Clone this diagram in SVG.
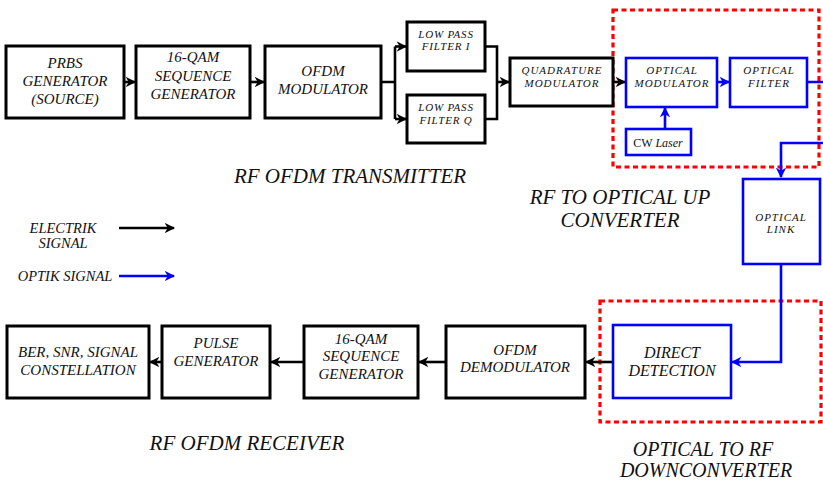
<svg xmlns="http://www.w3.org/2000/svg" width="823" height="482" viewBox="0 0 823 482">
  <defs>
    <marker id="ah-black" viewBox="0 0 10 10" refX="9" refY="5" markerWidth="4" markerHeight="4" orient="auto" markerUnits="strokeWidth">
      <path d="M0,0 L10,5 L0,10 L3,5 z" fill="#000"/>
    </marker>
    <marker id="ah-blue" viewBox="0 0 10 10" refX="9" refY="5" markerWidth="4" markerHeight="4" orient="auto" markerUnits="strokeWidth">
      <path d="M0,0 L10,5 L0,10 L3,5 z" fill="#0000ff"/>
    </marker>
    <style>
      .box { fill: #fff; stroke: #000; stroke-width: 3; }
      .obox { fill: #fff; stroke: #0000ff; stroke-width: 2.6; }
      .zone { fill: none; stroke: #ff0000; stroke-width: 3.2; stroke-dasharray: 5 3.5; }
      .wire { fill: none; stroke: #000; stroke-width: 2.6; }
      .owire { fill: none; stroke: #0000ff; stroke-width: 2.6; }
      .arr { marker-end: url(#ah-black); }
      .oarr { marker-end: url(#ah-blue); }
      text { font-family: "Liberation Serif", "Times New Roman", serif; font-style: italic; fill: #111; text-anchor: middle; }
      .t15 { font-size: 15px; }
      .t16 { font-size: 16px; }
      .t11 { font-size: 11px; letter-spacing: 1px; }
      .t11n { font-size: 11px; letter-spacing: 0.8px; }
      .t12 { font-size: 12px; font-style: normal; }
      .cap { font-size: 21px; }
      .cap20 { font-size: 20px; }
      .leg { font-size: 14.5px; }
    </style>
  </defs>

  <!-- dashed converter zones -->
  <rect class="zone" x="613" y="10" width="206" height="157"/>
  <rect class="zone" x="600" y="301" width="221" height="121"/>

  <!-- connectors -->
  <g id="connectors">
    <!-- transmitter chain -->
    <line class="wire arr" x1="124" y1="82" x2="135" y2="82"/>
    <line class="wire arr" x1="250" y1="82" x2="264" y2="82"/>
    <path class="wire" d="M381,82 H395 M395,46.5 V119"/>
    <line class="wire arr" x1="395" y1="46.5" x2="406" y2="46.5"/>
    <line class="wire arr" x1="395" y1="119" x2="406" y2="119"/>
    <path class="wire" d="M485,46.5 H497 V119 H485"/>
    <line class="wire arr" x1="497" y1="82" x2="509" y2="82"/>
    <line class="wire arr" x1="613" y1="82" x2="625" y2="82"/>
    <!-- optical up-conversion -->
    <line class="owire oarr" x1="717" y1="82" x2="729" y2="82"/>
    <line class="owire oarr" x1="665" y1="129" x2="665" y2="108"/>
    <path class="owire" d="M807,82 H826 V143"/>
    <path class="owire oarr" d="M826,143 H781 V177"/>
    <!-- optical link to detection -->
    <path class="owire oarr" d="M781,264 V362 H732"/>
    <!-- receiver chain -->
    <line class="wire arr" x1="613" y1="362" x2="586" y2="362"/>
    <line class="wire arr" x1="446" y1="362" x2="419" y2="362"/>
    <line class="wire arr" x1="304" y1="362" x2="271" y2="362"/>
    <line class="wire arr" x1="162" y1="362" x2="150" y2="362"/>
    <!-- legend arrows -->
    <line class="wire arr" x1="119" y1="228" x2="174" y2="228"/>
    <line class="owire oarr" x1="119" y1="276" x2="174" y2="276"/>
  </g>

  <!-- transmitter -->
  <g id="prbs">
    <rect class="box" x="6" y="46" width="118" height="72"/>
    <text class="t15" x="65" y="68">PRBS</text>
    <text class="t15" x="65" y="86">GENERATOR</text>
    <text class="t15" x="65" y="104">(SOURCE)</text>
  </g>
  <g id="qam-tx">
    <rect class="box" x="136" y="46" width="114" height="72"/>
    <text class="t15" x="193" y="62">16-QAM</text>
    <text class="t15" x="193" y="81">SEQUENCE</text>
    <text class="t15" x="193" y="99">GENERATOR</text>
  </g>
  <g id="ofdm-mod">
    <rect class="box" x="265" y="46" width="116" height="72"/>
    <text class="t15" x="323" y="76">OFDM</text>
    <text class="t15" x="323" y="94">MODULATOR</text>
  </g>
  <g id="lpf-i">
    <rect class="box" x="407" y="22" width="78" height="49"/>
    <text class="t11n" x="446" y="38">LOW PASS</text>
    <text class="t11n" x="446" y="50">FILTER I</text>
  </g>
  <g id="lpf-q">
    <rect class="box" x="407" y="95" width="78" height="48"/>
    <text class="t11n" x="446" y="111">LOW PASS</text>
    <text class="t11n" x="446" y="124">FILTER Q</text>
  </g>
  <g id="quad-mod">
    <rect class="box" x="510" y="58" width="103" height="48"/>
    <text class="t11" x="562" y="74">QUADRATURE</text>
    <text class="t11" x="562" y="87">MODULATOR</text>
  </g>

  <!-- RF to optical up converter -->
  <g id="opt-mod">
    <rect class="obox" x="626" y="58" width="91" height="49"/>
    <text class="t11" x="672" y="74">OPTICAL</text>
    <text class="t11" x="672" y="87">MODULATOR</text>
  </g>
  <g id="opt-filter">
    <rect class="obox" x="730" y="58" width="77" height="49"/>
    <text class="t11" x="769" y="74">OPTICAL</text>
    <text class="t11" x="769" y="87">FILTER</text>
  </g>
  <g id="cw-laser">
    <rect class="obox" x="626" y="129" width="65" height="26"/>
    <text class="t12" x="658" y="147">CW <tspan font-style="italic">Laser</tspan></text>
  </g>

  <!-- fibre -->
  <g id="opt-link">
    <rect class="obox" x="743" y="179" width="77" height="85"/>
    <text class="t11" x="781" y="221">OPTICAL</text>
    <text class="t11" x="781" y="233">LINK</text>
  </g>

  <!-- optical to RF down converter -->
  <g id="direct-det">
    <rect class="obox" x="613" y="325" width="118" height="73"/>
    <text class="t16" x="672" y="358">DIRECT</text>
    <text class="t16" x="672" y="376">DETECTION</text>
  </g>

  <!-- receiver -->
  <g id="ofdm-demod">
    <rect class="box" x="446" y="326" width="139" height="72"/>
    <text class="t15" x="515" y="355">OFDM</text>
    <text class="t15" x="515" y="372">DEMODULATOR</text>
  </g>
  <g id="qam-rx">
    <rect class="box" x="304" y="326" width="114" height="72"/>
    <text class="t15" x="361" y="344">16-QAM</text>
    <text class="t15" x="361" y="361">SEQUENCE</text>
    <text class="t15" x="361" y="379">GENERATOR</text>
  </g>
  <g id="pulse-gen">
    <rect class="box" x="162" y="326" width="108" height="72"/>
    <text class="t15" x="216" y="348">PULSE</text>
    <text class="t15" x="216" y="366">GENERATOR</text>
  </g>
  <g id="ber">
    <rect class="box" x="7" y="326" width="142" height="72"/>
    <text class="t15" x="78" y="357">BER, SNR, SIGNAL</text>
    <text class="t15" x="78" y="375">CONSTELLATION</text>
  </g>

  <!-- captions -->
  <g id="captions">
    <text class="cap" x="350" y="183">RF OFDM TRANSMITTER</text>
    <text class="cap" x="620" y="204">RF TO OPTICAL UP</text>
    <text class="cap" x="620" y="227">CONVERTER</text>
    <text class="cap" x="247" y="450">RF OFDM RECEIVER</text>
    <text class="cap20" x="703" y="456">OPTICAL TO RF</text>
    <text class="cap20" x="706" y="477">DOWNCONVERTER</text>
  </g>

  <!-- legend -->
  <g id="legend">
    <text class="leg" x="63" y="233">ELECTRIK</text>
    <text class="leg" x="63" y="248">SIGNAL</text>
    <text class="leg" x="65" y="281">OPTIK SIGNAL</text>
  </g>
</svg>
